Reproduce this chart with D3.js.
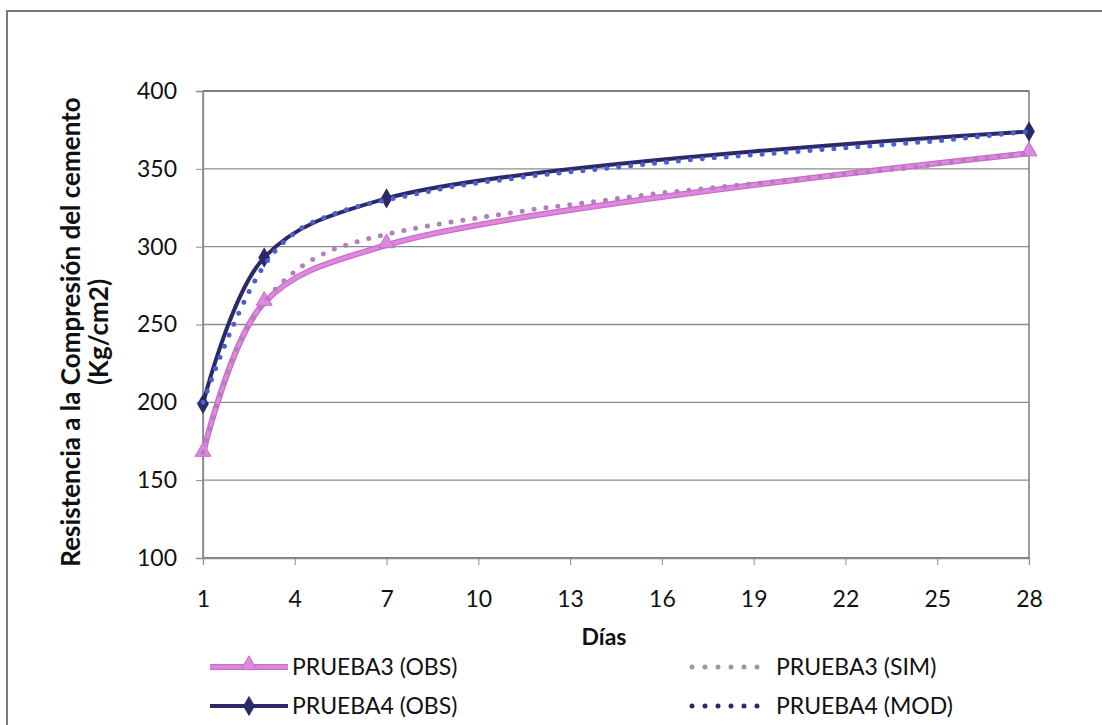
<!DOCTYPE html>
<html>
<head>
<meta charset="utf-8">
<script src="https://cdn.jsdelivr.net/npm/d3@7"></script>
<style>
  body { margin: 0; background: #fff; }
  svg text { font-family: Lato, "Open Sans", sans-serif; fill: #111; }
</style>
</head>
<body>
<svg id="chart"></svg>
<script>
// chart values
var obsDays = [1, 3, 7, 28];
var prueba3Obs = [167, 264, 301, 360];
var prueba4Obs = [199, 293, 331, 374];

var simDays = [1, 2, 3, 4, 5, 6, 7, 8, 9, 10, 11, 12, 13, 14, 15, 16, 17, 18, 19, 20, 21, 22, 23, 24, 25, 26, 27, 28];
var prueba3Sim = [168, 230, 264, 284, 296, 303, 308, 312, 315.5, 318.5, 321.5, 324.5, 327, 329.5, 332, 334.5, 336.5, 338.5, 340.5, 342.5, 344.5, 346.5, 348.5, 350.5, 353, 355.5, 358, 360];
var prueba4Mod = [200, 250, 288, 309, 319, 325.5, 330, 334, 338, 341, 343.5, 346, 348, 350, 352, 354, 356, 357.5, 359, 360.5, 362, 363.5, 365, 366.5, 368, 370, 372, 374];

var xTicks = [1, 4, 7, 10, 13, 16, 19, 22, 25, 28];
var yTicks = [100, 150, 200, 250, 300, 350, 400];

var seriesNames = ["PRUEBA3 (OBS)", "PRUEBA3 (SIM)", "PRUEBA4 (OBS)", "PRUEBA4 (MOD)"];

var width = 1102, height = 725,
  margin = { top: 91, right: 73, bottom: 167, left: 203 },
  innerW = width - margin.left - margin.right,
  innerH = height - margin.top - margin.bottom;

var colors = {
  pink: "#e088e0",
  pinkDark: "#c46ec6",
  navy: "#2c2a66",
  simDot: "#b67cc0",
  modDot: "#4b5ed4"
};

var svg = d3.select("#chart")
  .attr("width", width)
  .attr("height", height);

// outer frame (left and top edges visible)
svg.append("path")
  .attr("d", "M7," + height + "V11H" + width)
  .attr("fill", "none")
  .attr("stroke", "#7a7a7a")
  .attr("stroke-width", 2);

var x = d3.scaleLinear().domain([1, 28]).range([0, innerW]);
var y = d3.scaleLinear().domain([100, 400]).range([innerH, 0]);

var g = svg.append("g")
  .attr("transform", "translate(" + margin.left + "," + margin.top + ")");

// gridlines
g.append("g")
  .selectAll("line")
  .data(yTicks)
  .enter().append("line")
    .attr("x1", 0).attr("x2", innerW)
    .attr("y1", y).attr("y2", y)
    .attr("stroke", "#8c8c8c")
    .attr("stroke-width", 1.3);

// plot border
g.append("rect")
  .attr("width", innerW).attr("height", innerH)
  .attr("fill", "none")
  .attr("stroke", "#6a6a6a")
  .attr("stroke-width", 1.3);

var yAxis = g.append("g")
  .call(d3.axisLeft(y).tickValues(yTicks).tickSize(7).tickPadding(19));
yAxis.select(".domain").attr("stroke", "#8c8c8c").attr("stroke-width", 1.3);
yAxis.selectAll(".tick line").attr("stroke", "#8c8c8c");
yAxis.selectAll("text").style("font-size", "23px");

var xAxis = g.append("g")
  .attr("transform", "translate(0," + innerH + ")")
  .call(d3.axisBottom(x).tickValues(xTicks).tickSize(7).tickPadding(26));
xAxis.select(".domain").attr("stroke", "#8c8c8c").attr("stroke-width", 1.3);
xAxis.selectAll(".tick line").attr("stroke", "#8c8c8c");
xAxis.selectAll("text").style("font-size", "23px");

// axis titles
svg.append("text")
  .attr("x", 604)
  .attr("y", 645)
  .attr("text-anchor", "middle")
  .style("font-size", "23px")
  .style("font-weight", "bold")
  .text("Días");

var yTitle = svg.append("text")
  .attr("transform", "translate(80,332) rotate(-90)")
  .attr("text-anchor", "middle")
  .style("font-size", "26px")
  .style("font-weight", "bold");
yTitle.append("tspan").attr("x", 0).attr("dy", 0).text("Resistencia a la Compresión del cemento");
yTitle.append("tspan").attr("x", 0).attr("dy", 28).text("(Kg/cm2)");

var obsLine = d3.line()
  .x(function(d) { return x(d[0]); })
  .y(function(d) { return y(d[1]); })
  .curve(d3.curveCatmullRom.alpha(0.5));

var dotLine = d3.line()
  .x(function(d) { return x(d[0]); })
  .y(function(d) { return y(d[1]); })
  .curve(d3.curveMonotoneX);

var zip = function(xs, ys) {
  return xs.map(function(v, i) { return [v, ys[i]]; });
};

var p3 = zip(obsDays, prueba3Obs),
  p4 = zip(obsDays, prueba4Obs),
  s3 = zip(simDays, prueba3Sim),
  m4 = zip(simDays, prueba4Mod);

// observed series
g.append("path")
  .datum(p3)
  .attr("d", obsLine)
  .attr("fill", "none")
  .attr("stroke", colors.pinkDark)
  .attr("stroke-width", 6);
g.append("path")
  .datum(p3)
  .attr("d", obsLine)
  .attr("fill", "none")
  .attr("stroke", colors.pink)
  .attr("stroke-width", 3.5);

g.append("path")
  .datum(p4)
  .attr("d", obsLine)
  .attr("fill", "none")
  .attr("stroke", colors.navy)
  .attr("stroke-width", 4);

var triangle = d3.symbol().type(d3.symbolTriangle).size(110);
var diamond = d3.symbol().type(d3.symbolDiamond).size(120);

g.append("g")
  .selectAll("path")
  .data(p3)
  .enter().append("path")
    .attr("d", triangle)
    .attr("transform", function(d) { return "translate(" + x(d[0]) + "," + (y(d[1]) - 2) + ")"; })
    .attr("fill", colors.pink)
    .attr("stroke", colors.pinkDark)
    .attr("stroke-width", 1);

g.append("g")
  .selectAll("path")
  .data(p4)
  .enter().append("path")
    .attr("d", diamond)
    .attr("transform", function(d) { return "translate(" + x(d[0]) + "," + y(d[1]) + ")"; })
    .attr("fill", colors.navy);

// simulated / model series as round dots
g.append("path")
  .datum(s3)
  .attr("d", dotLine)
  .attr("fill", "none")
  .attr("stroke", colors.simDot)
  .attr("stroke-width", 5)
  .attr("stroke-linecap", "round")
  .attr("stroke-dasharray", "0 12");

g.append("path")
  .datum(m4)
  .attr("d", dotLine)
  .attr("fill", "none")
  .attr("stroke", colors.modDot)
  .attr("stroke-width", 5)
  .attr("stroke-linecap", "round")
  .attr("stroke-dasharray", "0 12");

// legend
var legendRows = [
  { name: seriesNames[0], x: 210, y: 667, type: "obs3" },
  { name: seriesNames[1], x: 690, y: 667, type: "sim" },
  { name: seriesNames[2], x: 210, y: 706, type: "obs4" },
  { name: seriesNames[3], x: 690, y: 706, type: "mod" }
];

var legend = svg.append("g");
legendRows.forEach(function(item) {
  var lg = legend.append("g").attr("transform", "translate(" + item.x + "," + item.y + ")");
  if (item.type === "obs3") {
    lg.append("line").attr("x1", 0).attr("x2", 78)
      .attr("stroke", colors.pinkDark).attr("stroke-width", 6);
    lg.append("line").attr("x1", 0).attr("x2", 78)
      .attr("stroke", colors.pink).attr("stroke-width", 3.5);
    lg.append("path").attr("d", triangle).attr("transform", "translate(39,-2)")
      .attr("fill", colors.pink).attr("stroke", colors.pinkDark);
  } else if (item.type === "obs4") {
    lg.append("line").attr("x1", 0).attr("x2", 78)
      .attr("stroke", colors.navy).attr("stroke-width", 4);
    lg.append("path").attr("d", diamond).attr("transform", "translate(39,0)")
      .attr("fill", colors.navy);
  } else {
    lg.append("line").attr("x1", 2).attr("x2", 80)
      .attr("stroke", item.type === "sim" ? "#9a9a9a" : colors.navy)
      .attr("stroke-width", 5)
      .attr("stroke-linecap", "round")
      .attr("stroke-dasharray", "0 13");
  }
  lg.append("text")
    .attr("x", item.type === "obs3" || item.type === "obs4" ? 82 : 86)
    .attr("y", 8)
    .style("font-size", "23px")
    .text(item.name);
});
</script>
</body>
</html>
